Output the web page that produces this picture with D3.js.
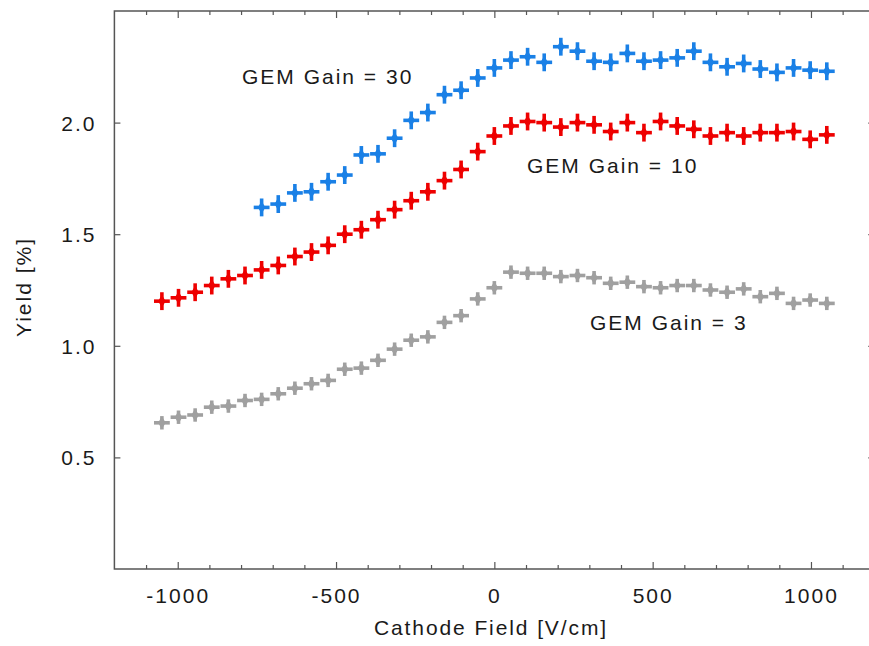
<!DOCTYPE html>
<html>
<head>
<meta charset="utf-8">
<script src="https://cdn.jsdelivr.net/npm/d3@7"></script>
<style>
body{margin:0;background:#fff}
text{font-family:"Liberation Sans",Arial,sans-serif;fill:#1a1a1a}
</style>
</head>
<body>
<div id="chart"></div>
<script>
var fieldValues = [-1050,-997.5,-945,-892.5,-840,-787.5,-735,-682.5,-630,-577.5,-525,-472.5,-420,-367.5,-315,-262.5,-210,-157.5,-105,-52.5,0,52.5,105,157.5,210,262.5,315,367.5,420,472.5,525,577.5,630,682.5,735,787.5,840,892.5,945,997.5,1050]
var gain30Field = fieldValues.slice(6)
var gain30Yield = [1.62,1.635,1.685,1.69,1.735,1.765,1.855,1.86,1.93,2.01,2.045,2.125,2.145,2.2,2.245,2.28,2.295,2.27,2.34,2.32,2.275,2.27,2.31,2.275,2.28,2.29,2.32,2.27,2.25,2.265,2.24,2.225,2.245,2.235,2.23]
var gain10Yield = [1.2,1.215,1.24,1.27,1.3,1.315,1.34,1.36,1.4,1.42,1.45,1.5,1.52,1.565,1.61,1.65,1.69,1.74,1.79,1.87,1.94,1.985,2.005,2,1.98,2,1.99,1.96,2,1.955,2.005,1.985,1.97,1.94,1.955,1.94,1.955,1.955,1.96,1.925,1.945]
var gain3Yield = [0.655,0.68,0.69,0.725,0.73,0.755,0.76,0.785,0.81,0.83,0.845,0.895,0.9,0.935,0.985,1.025,1.04,1.105,1.135,1.21,1.26,1.33,1.325,1.325,1.31,1.315,1.305,1.28,1.285,1.265,1.26,1.27,1.27,1.25,1.24,1.255,1.22,1.235,1.19,1.205,1.19]
var xMajorTicks = [-1000,-500,0,500,1000]
var yMajorTicks = [0.5,1.0,1.5,2.0]
var fieldErr = 25
var seriesList = [
    {name:"GEM Gain = 3", x:fieldValues, y:gain3Yield, yErr:0.03, color:"#a0a0a0", labelX:590, labelY:330},
    {name:"GEM Gain = 10", x:fieldValues, y:gain10Yield, yErr:0.04, color:"#ee0000", labelX:527, labelY:173},
    {name:"GEM Gain = 30", x:gain30Field, y:gain30Yield, yErr:0.04, color:"#1a80e6", labelX:242, labelY:84}
]

drawChart()

function drawChart(){
    var width = 869
    var height = 646
    var svg = d3.select("#chart").append("svg").attr("width",width).attr("height",height)

    // frame runs a little past the right edge of the picture
    var xScale = d3.scaleLinear().domain([-1200,1200]).range([114.4,874.3])
    var yScale = d3.scaleLinear().domain([0,2.5]).range([569,11])
    var x0 = xScale.range()[0], x1 = xScale.range()[1]
    var y0 = yScale.range()[0], y1 = yScale.range()[1]

    var minorX = d3.range(-1100,1200,100).filter(function(d){return xMajorTicks.indexOf(d)<0})

    // ticks on all four sides point inward
    var bottomAxis = svg.append("g").attr("transform","translate(0,"+y0+")")
    bottomAxis.call(d3.axisBottom(xScale).tickValues(xMajorTicks).tickSize(-7).tickPadding(0).tickFormat(function(d){return d}))
    bottomAxis.append("g").call(d3.axisBottom(xScale).tickValues(minorX).tickSize(-4).tickFormat(""))
    var topAxis = svg.append("g").attr("transform","translate(0,"+y1+")")
    topAxis.call(d3.axisTop(xScale).tickValues(xMajorTicks).tickSize(-7).tickFormat(""))
    topAxis.append("g").call(d3.axisTop(xScale).tickValues(minorX).tickSize(-4).tickFormat(""))
    var leftAxis = svg.append("g").attr("transform","translate("+x0+",0)")
    leftAxis.call(d3.axisLeft(yScale).tickValues(yMajorTicks).tickSize(-6).tickFormat(d3.format(".1f")))
    var rightAxis = svg.append("g").attr("transform","translate("+x1+",0)")
    rightAxis.call(d3.axisRight(yScale).tickValues(yMajorTicks).tickSize(-6).tickFormat(""))

    svg.selectAll(".domain").remove()
    svg.selectAll(".tick line").attr("stroke","#555").attr("stroke-width",1.2)
    svg.selectAll("g").attr("font-family",null).attr("font-size",null)

    bottomAxis.selectAll(".tick text")
        .attr("y",34).attr("dy",0)
        .attr("font-size",21).attr("letter-spacing",2)
    leftAxis.selectAll(".tick text")
        .attr("x",-18).attr("dy","0.36em")
        .attr("font-size",21).attr("letter-spacing",2)
    svg.selectAll(".tick text").attr("fill","#1a1a1a")

    svg.append("rect")
        .attr("x",x0).attr("y",y1)
        .attr("width",x1-x0).attr("height",y0-y1)
        .attr("fill","none").attr("stroke","#555").attr("stroke-width",1.5)

    svg.append("text")
        .text("Cathode Field [V/cm]")
        .attr("x",491).attr("y",635)
        .attr("text-anchor","middle")
        .attr("font-size",21).attr("letter-spacing",1.9)
    svg.append("text")
        .text("Yield [%]")
        .attr("transform","translate(31,287) rotate(-90)")
        .attr("text-anchor","middle")
        .attr("font-size",21).attr("letter-spacing",2)

    var diamond = d3.symbol().type(d3.symbolDiamond).size(48)

    seriesList.forEach(function(s){
        var pts = s.x.map(function(d,i){return {x:d,y:s.y[i]}})
        var g = svg.append("g").attr("class","series")
        g.selectAll(".hbar")
            .data(pts).enter().append("line")
            .attr("x1",function(d){return xScale(d.x-fieldErr)})
            .attr("x2",function(d){return xScale(d.x+fieldErr)})
            .attr("y1",function(d){return yScale(d.y)})
            .attr("y2",function(d){return yScale(d.y)})
            .attr("stroke",s.color).attr("stroke-width",3.6)
        g.selectAll(".vbar")
            .data(pts).enter().append("line")
            .attr("x1",function(d){return xScale(d.x)})
            .attr("x2",function(d){return xScale(d.x)})
            .attr("y1",function(d){return yScale(d.y-s.yErr)})
            .attr("y2",function(d){return yScale(d.y+s.yErr)})
            .attr("stroke",s.color).attr("stroke-width",3.6)
        g.selectAll(".dot")
            .data(pts).enter().append("path")
            .attr("d",diamond)
            .attr("transform",function(d){return "translate("+xScale(d.x)+","+yScale(d.y)+")"})
            .attr("fill",s.color)
        svg.append("text")
            .text(s.name)
            .attr("x",s.labelX).attr("y",s.labelY)
            .attr("font-size",21).attr("letter-spacing",2)
    })
}
</script>
</body>
</html>
